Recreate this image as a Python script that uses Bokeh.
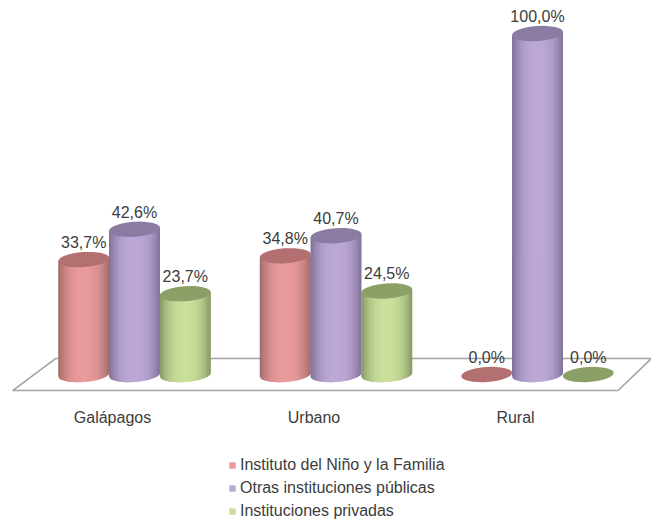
from bokeh.plotting import figure
from bokeh.models import Legend, LegendItem, Range1d, ColumnDataSource
from bokeh.core.properties import value
from bokeh.embed import file_html
from bokeh.resources import INLINE
import numpy as np

categories = ["Galápagos", "Urbano", "Rural"]
series_names = ["Instituto del Niño y la Familia", "Otras instituciones públicas", "Instituciones privadas"]
instituto = [33.7, 34.8, 0.0]
otras = [42.6, 40.7, 100.0]
privadas = [23.7, 24.5, 0.0]
series = [instituto, otras, privadas]
side = [("#e99a9a", "#a06a6a", "#b47070"),
        ("#bca8d6", "#7f7096", "#8a7ba3"),
        ("#c9df9a", "#849663", "#8c9f66")]

W, H = 651, 520
PX_X = 201.5             # px per category
PX_Y = 3.41              # px per percent
A, B, TILT = 25.5, 7.5, 0.07
OFF = 0.252              # series offset in categories
x_lo = -134 / PX_X
x_hi = x_lo + W / PX_X
y_hi = 374 / PX_Y
y_lo = y_hi - H / PX_Y

p = figure(width=W, height=H, output_backend="svg", toolbar_location=None,
           x_range=Range1d(x_lo, x_hi), y_range=Range1d(y_lo, y_hi),
           min_border=0, outline_line_color=None,
           background_fill_color="white", border_fill_color="white")
p.grid.visible = False
p.axis.visible = False

# floor parallelogram
fx = np.array([-0.605, 2.40, 2.565, -0.39])
fy = np.array([-4.7, -4.7, 4.7, 4.7])
p.patch(fx, fy, fill_color="white", line_color="#a2a2a2", line_width=1.6)

# category labels
p.text(list(range(len(categories))), [-12.6] * len(categories), text=categories,
       text_font=value("Liberation Sans"), text_font_size="16px", text_color="#3c3c3c",
       text_align="center", text_baseline="middle", x_offset=-22)

def ell(dx):
    return B * np.sqrt(np.clip(1 - (dx / A) ** 2, 0, 1))

def shade(light, dark, t):
    a = np.array([int(light[i:i+2], 16) for i in (1, 3, 5)])
    b = np.array([int(dark[i:i+2], 16) for i in (1, 3, 5)])
    k = np.clip(abs(t), 0, 1) ** 2.5
    c = a + (b - a) * k
    return "#%02x%02x%02x" % tuple(int(round(v)) for v in c)

legend_items = []
for s, vals in enumerate(series):
    light, dark, top = side[s]
    cs = []
    for g, v in enumerate(vals):
        cx = g + (s - 1) * OFF
        if v > 0:
            edges = np.linspace(-A, A, 27)
            for e0, e1 in zip(edges[:-1], edges[1:]):
                dxs = np.linspace(e0, min(e1 + 1.5, A), 5)
                low = -ell(dxs) + TILT * dxs
                high = TILT * dxs
                xs = np.r_[dxs, dxs[::-1]]
                ys = np.r_[low, high[::-1] + v * PX_Y]
                p.patch(cx + xs / PX_X, ys / PX_Y,
                        fill_color=shade(light, dark, (e0 + e1) / 2 / A), line_color=None)
        cs.append((cx, v))
    src = ColumnDataSource(dict(x=[c[0] for c in cs], y=[c[1] for c in cs],
                                lab=[f"{c[1]:.1f}%".replace(".", ",") for c in cs]))
    p.ellipse("x", "y", source=src, width=2 * A, height=2 * B, width_units="screen", height_units="screen",
              angle=np.arctan(TILT), fill_color=top, line_color=None)
    p.text("x", "y", text="lab", source=src, text_font=value("Liberation Sans"), text_font_size="16px",
           text_color="#3c3c3c", text_align="center", text_baseline="middle", y_offset=-17)
    r = p.scatter([-9], [-9], marker="square", size=8, fill_color=light, line_color=None)
    legend_items.append(LegendItem(label=series_names[s], renderers=[r]))

leg = Legend(items=legend_items, orientation="vertical", location=(224, 0),
             border_line_color=None, background_fill_alpha=0, margin=0, padding=0, spacing=5,
             label_text_font="Liberation Sans", label_text_font_size="16px", label_text_color="#3c3c3c",
             glyph_width=16, glyph_height=16, label_standoff=0, label_height=18)
p.add_layout(leg)

open("out.html", "w").write(file_html(p, INLINE))
